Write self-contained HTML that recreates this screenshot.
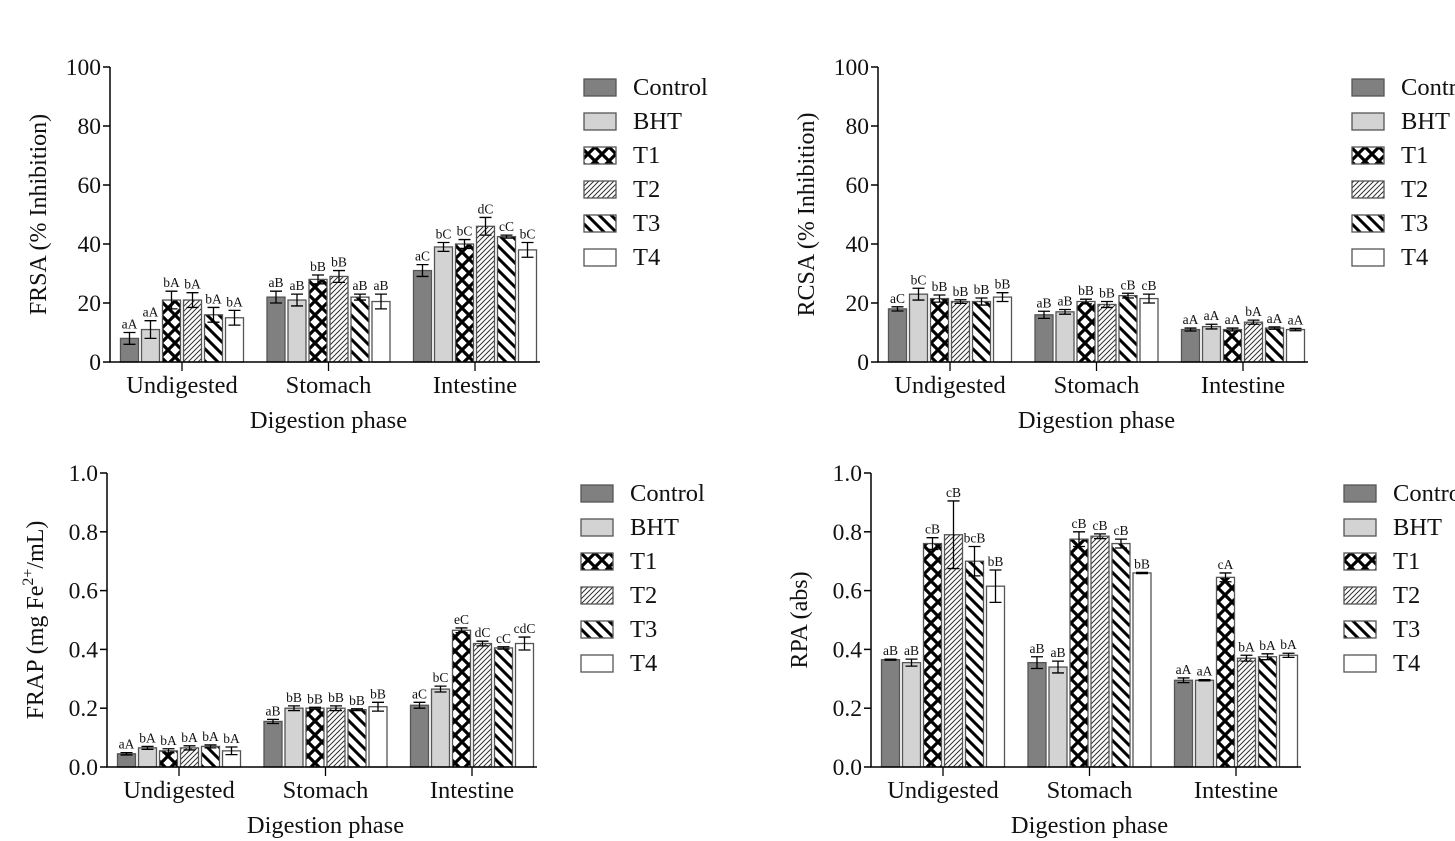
<!DOCTYPE html>
<html><head><meta charset="utf-8"><style>
body{margin:0;background:#fff;overflow:hidden}
svg{font-family:"Liberation Serif",serif;display:block}
</style></head><body>
<svg id="s" width="1455" height="841" viewBox="0 0 1455 841">
<defs>
<pattern id="pT1" patternUnits="userSpaceOnUse" width="14" height="14"><rect width="14" height="14" fill="#fff"/><path d="M0 0L14 14M14 0L0 14M-7 7L7 21M7 -7L21 7M7 21L21 7M-7 7L7 -7" stroke="#000" stroke-width="3.2"/></pattern>
<pattern id="pT2" patternUnits="userSpaceOnUse" width="5" height="5"><rect width="5" height="5" fill="#fff"/><path d="M0 5L5 0M-1 1L1 -1M4 6L6 4" stroke="#333" stroke-width="1"/></pattern>
<pattern id="pT3" patternUnits="userSpaceOnUse" width="12" height="12"><rect width="12" height="12" fill="#fff"/><path d="M0 0L12 12M-6 6L6 18M6 -6L18 6" stroke="#000" stroke-width="3"/></pattern>
</defs>
</svg>
<script>
const categories=["Undigested","Stomach","Intestine"];
const series=["Control","BHT","T1","T2","T3","T4"];
const frsaValues=[[8,11,21,21,16,15],[22,21,28,29,22,20.5],[31,39,40,46,42.5,38]];
const frsaErrors=[[2,3,3,2.5,2.5,2.5],[2,2,1.5,2,1,2.5],[2,1.5,1.5,3,0.5,2.5]];
const frsaLabels=[["aA","aA","bA","bA","bA","bA"],["aB","aB","bB","bB","aB","aB"],["aC","bC","bC","dC","cC","bC"]];
const rcsaValues=[[18,23,21.5,20.5,20.5,22],[16,17,20.5,19.5,22.5,21.5],[11,12,11,13.5,11.5,11]];
const rcsaErrors=[[0.7,2,1.2,0.6,1.2,1.5],[1.2,0.8,0.8,1,0.8,1.5],[0.5,0.8,0.5,0.7,0.4,0.4]];
const rcsaLabels=[["aC","bC","bB","bB","bB","bB"],["aB","aB","bB","bB","cB","cB"],["aA","aA","aA","bA","aA","aA"]];
const frapValues=[[0.045,0.065,0.055,0.065,0.07,0.055],[0.155,0.2,0.2,0.2,0.195,0.205],[0.21,0.265,0.465,0.42,0.405,0.42]];
const frapErrors=[[0.004,0.005,0.007,0.007,0.005,0.013],[0.007,0.008,0.003,0.008,0.003,0.015],[0.01,0.01,0.008,0.008,0.004,0.022]];
const frapLabels=[["aA","bA","bA","bA","bA","bA"],["aB","bB","bB","bB","bB","bB"],["aC","bC","eC","dC","cC","cdC"]];
const rpaValues=[[0.365,0.355,0.76,0.79,0.70,0.615],[0.355,0.34,0.775,0.785,0.76,0.66],[0.295,0.295,0.645,0.37,0.375,0.38]];
const rpaErrors=[[0.002,0.012,0.02,0.115,0.05,0.055],[0.02,0.02,0.025,0.008,0.015,0.002],[0.008,0.002,0.015,0.01,0.01,0.007]];
const rpaLabels=[["aB","aB","cB","cB","bcB","bB"],["aB","aB","cB","cB","cB","bB"],["aA","aA","cA","bA","bA","bA"]];
const pctTicks=["0","20","40","60","80","100"];
const fracTicks=["0.0","0.2","0.4","0.6","0.8","1.0"];

const S=document.getElementById('s');
const NS="http://www.w3.org/2000/svg";
const fills=["#808080","#d3d3d3","url(#pT1)","url(#pT2)","url(#pT3)","#fff"];
function mk(tag,at,parent){const e=document.createElementNS(NS,tag);for(const k in at)e.setAttribute(k,at[k]);(parent||S).appendChild(e);return e;}

function chart(o){
  const g=mk('g',{});
  
  
  const yS=v=>o.y0-(v/o.max)*(o.y0-o.y1);
  o.vals.forEach((grp,ci)=>{
    const cx=o.cx0+ci*o.gap;
    grp.forEach((v,si)=>{
      const bx=cx+(si-2.5)*21-9;
      const by=yS(v);
      const r=mk('rect',{x:bx,y:by,width:18,height:o.y0-by,fill:fills[si],stroke:'#555','stroke-width':1.3},g);
      
      
      const e=o.errs[ci][si],mx=bx+9;
      const eh=mk('path',{d:`M${mx} ${yS(v+e)}V${yS(v-e)}M${mx-6} ${yS(v+e)}H${mx+6}M${mx-6} ${yS(v-e)}H${mx+6}`,stroke:'#000','stroke-width':1.3,fill:'none'},g);
      
      
      const t=mk('text',{x:mx,y:yS(v+e)-4,'font-size':13.5,'text-anchor':'middle',fill:'#111'},g);
      t.textContent=o.labs[ci][si];
      
      
    });
    mk('line',{x1:cx,x2:cx,y1:o.y0,y2:o.y0+9,stroke:'#000','stroke-width':1.3},g);
    const ct=mk('text',{x:cx,y:o.y0+31,'font-size':24.5,'text-anchor':'middle',fill:'#111'},g);
    ct.textContent=categories[ci];
    
    
  });
  mk('path',{d:`M${o.ax} ${o.y1}V${o.y0}H${o.axEnd}`,stroke:'#000','stroke-width':1.5,fill:'none'},g);
  o.ticks.forEach((tl,i)=>{
    const v=o.max*i/(o.ticks.length-1),y=yS(v);
    mk('line',{x1:o.ax-7,x2:o.ax,y1:y,y2:y,stroke:'#000','stroke-width':1.5},g);
    const t=mk('text',{x:o.ax-9,y:y+8,'font-size':23.5,'text-anchor':'end',fill:'#111'},g);
    t.textContent=tl;
    
    
  });
  const xt=mk('text',{x:o.cx0+o.gap,y:o.y0+66,'font-size':24.5,'text-anchor':'middle',fill:'#111'},g);
  xt.textContent='Digestion phase';
  
  
  const yt=mk('text',{transform:`translate(${o.ax-64},${(o.y0+o.y1)/2}) rotate(-90)`,'font-size':24,'text-anchor':'middle',fill:'#111'},g);
  yt.innerHTML=o.ytitle;
  
  
  series.forEach((sn,i)=>{
    const y=o.ly+i*34;
    const lb=mk('rect',{x:o.lx,y:y-8,width:32,height:17,fill:fills[i],stroke:'#555','stroke-width':1.3},g);
    
    
    const t=mk('text',{x:o.lx+49,y:y+8,'font-size':24.5,fill:'#111'},g);
    t.textContent=sn;
    
    
  });
}
chart({name:'frsa-chart',vals:frsaValues,errs:frsaErrors,labs:frsaLabels,ticks:pctTicks,max:100,ax:110,axEnd:540,y0:362,y1:67,cx0:182,gap:146.5,ytitle:'FRSA (% Inhibition)',lx:584,ly:87});
chart({name:'rcsa-chart',vals:rcsaValues,errs:rcsaErrors,labs:rcsaLabels,ticks:pctTicks,max:100,ax:878,axEnd:1308,y0:362,y1:67,cx0:950,gap:146.5,ytitle:'RCSA (% Inhibition)',lx:1352,ly:87});
chart({name:'frap-chart',vals:frapValues,errs:frapErrors,labs:frapLabels,ticks:fracTicks,max:1,ax:107,axEnd:537,y0:767,y1:473,cx0:179,gap:146.5,ytitle:'FRAP (mg Fe<tspan dy="-10" font-size="16">2+</tspan><tspan dy="10">/mL)</tspan>',lx:581,ly:493});
chart({name:'rpa-chart',vals:rpaValues,errs:rpaErrors,labs:rpaLabels,ticks:fracTicks,max:1,ax:871,axEnd:1301,y0:767,y1:473,cx0:943,gap:146.5,ytitle:'RPA (abs)',lx:1344,ly:493});
</script>
</body></html>
